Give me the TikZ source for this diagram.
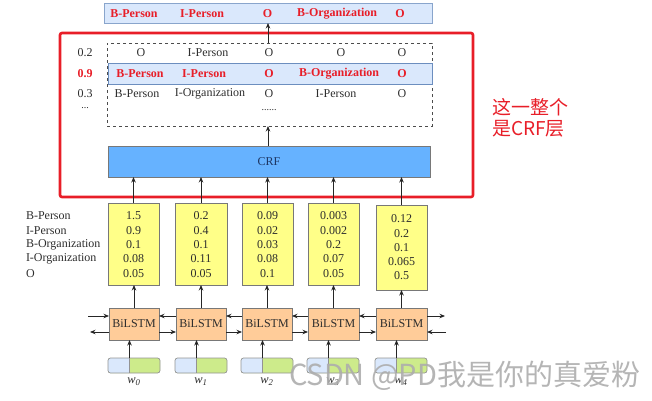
\documentclass[tikz,border=0pt]{standalone}
\usepackage{fontspec}
\setmainfont{Liberation Serif}
\newfontfamily\cjk{Noto Sans CJK SC}
\usetikzlibrary{arrows.meta}
\definecolor{redt}{RGB}{232,30,40}
\definecolor{lblue}{RGB}{218,232,252}
\definecolor{lblueb}{RGB}{108,142,191}
\definecolor{crfblue}{RGB}{102,178,255}
\definecolor{yel}{RGB}{255,255,136}
\definecolor{peach}{RGB}{255,204,153}
\definecolor{lgreen}{RGB}{205,235,139}
\definecolor{txt}{RGB}{45,45,45}
\definecolor{boxb}{RGB}{120,120,120}
\begin{document}
\begin{tikzpicture}[x=1pt,y=-1pt,
  font=\fontsize{12}{14}\selectfont,
  every node/.style={inner sep=0pt, outer sep=0pt},
  lab/.style={text=txt},
  redlab/.style={text=redt, font=\fontsize{12}{14}\selectfont\bfseries},
  arr/.style={-{Stealth[length=5.5pt,width=4.5pt]}, line width=0.8pt, draw=black!85},
  yelbox/.style={draw=boxb, fill=yel, line width=0.8pt, minimum width=51pt},
  lstm/.style={draw=boxb, fill=peach, line width=0.8pt, minimum width=50pt, minimum height=32pt, text=txt},
  ]
\useasboundingbox (0,0) rectangle (652,400);

% top output bar
\node[draw=lblueb!80, fill=lblue, line width=0.8pt, minimum width=328pt, minimum height=20pt] (topbar) at (268,13) {};
\node[redlab] (a1) at (134,13.5) {B-Person};
\node[redlab] (a2) at (202,13.5) {I-Person};
\node[redlab] (a3) at (267.5,13.5) {O};
\node[redlab] (a4) at (337,13.5) {B-Organization};
\node[redlab] (a5) at (400,13.5) {O};

% red frame
\node[draw=redt, line width=2.6pt, rounded corners=2pt, minimum width=413pt, minimum height=164pt] (frame) at (266.5,115) {};

% dashed candidate box
\node[draw=black!70, dashed, line width=0.8pt, minimum width=325pt, minimum height=83pt] (dash) at (269.5,84.5) {};
\node[draw=lblueb, fill=lblue, line width=0.8pt, minimum width=324pt, minimum height=21pt] (best) at (270,73.5) {};

\node[lab] (r11) at (141,53) {O};
\node[lab] (r12) at (208,53) {I-Person};
\node[lab] (r13) at (269,53) {O};
\node[lab] (r14) at (341,53) {O};
\node[lab] (r15) at (402,53) {O};

\node[redlab] (r21) at (140,74) {B-Person};
\node[redlab] (r22) at (204,74) {I-Person};
\node[redlab] (r23) at (269,74) {O};
\node[redlab] (r24) at (339,74) {B-Organization};
\node[redlab] (r25) at (402,74) {O};

\node[lab] (r31) at (137,94) {B-Person};
\node[lab] (r32) at (210,94) {I-Organization};
\node[lab] (r33) at (269,94) {O};
\node[lab] (r34) at (336,94) {I-Person};
\node[lab] (r35) at (402,94) {O};
\node[lab, font=\fontsize{10}{10}\selectfont] (r43) at (269,110) {......};

\node[lab] (s1) at (85,53) {0.2};
\node[redlab] (s2) at (85,74) {0.9};
\node[lab] (s3) at (85,94) {0.3};
\node[lab, font=\fontsize{10}{10}\selectfont] (s4) at (85,108) {...};

% CRF
\node[draw=boxb, fill=crfblue, line width=0.8pt, minimum width=322pt, minimum height=31pt, text={rgb,255:red,30;green,55;blue,100}] (crf) at (269,161.5) {CRF};

\coordinate (c1) at (268,126);
\draw[arr] (c1 |- crf.north) -- (c1 |- dash.south);
\draw[arr] (c1 |- dash.north) -- (c1 |- topbar.south);

% row labels
\foreach \t [count=\i] in {B-Person,I-Person,B-Organization,I-Organization,O}
  \node[lab, anchor=west] (rl\i) at (26,{216+14.3*(\i-1)}) {\t};

% yellow score boxes
\node[yelbox, minimum height=82pt] (y1) at (133.5,244) {};
\node[yelbox, minimum height=82pt, minimum width=52pt] (y2) at (201,244) {};
\node[yelbox, minimum height=82pt] (y3) at (267.5,244) {};
\node[yelbox, minimum height=82pt] (y4) at (333.5,244) {};
\node[yelbox, minimum height=85pt] (y5) at (401.5,247.5) {};

\foreach \v [count=\i] in {1.5,0.9,0.1,0.08,0.05}
  \node[lab] (v1\i) at (133.5,{216+14.3*(\i-1)}) {\v};
\foreach \v [count=\i] in {0.2,0.4,0.1,0.11,0.05}
  \node[lab] (v2\i) at (201,{216+14.3*(\i-1)}) {\v};
\foreach \v [count=\i] in {0.09,0.02,0.03,0.08,0.1}
  \node[lab] (v3\i) at (267.5,{216+14.3*(\i-1)}) {\v};
\foreach \v [count=\i] in {0.003,0.002,0.2,0.07,0.05}
  \node[lab] (v4\i) at (333.5,{216+14.3*(\i-1)}) {\v};
\foreach \v [count=\i] in {0.12,0.2,0.1,0.065,0.5}
  \node[lab] (v5\i) at (401.5,{219+14.2*(\i-1)}) {\v};

% BiLSTM
\node[lstm] (b1) at (134,324) {BiLSTM};
\node[lstm] (b2) at (201,324) {BiLSTM};
\node[lstm] (b3) at (267,324) {BiLSTM};
\node[lstm, minimum width=51pt] (b4) at (333.5,324) {BiLSTM};
\node[lstm, minimum width=51pt] (b5) at (401.5,324) {BiLSTM};

\foreach \i in {1,...,5} {
  \draw[arr] (b\i.north) -- (b\i.north |- y\i.south);
  \draw[arr] (y\i.north) -- (y\i.north |- crf.south);
}

% horizontal recurrent arrows
\foreach \i/\j in {1/2,2/3,3/4,4/5} {
  \draw[arr] ([yshift=-8pt]b\i.east) -- ([yshift=-8pt]b\j.west);
  \draw[arr] ([yshift=8pt]b\j.west) -- ([yshift=8pt]b\i.east);
}
\coordinate (lin) at (88,316);
\coordinate (lout) at (90,332);
\coordinate (rout) at (445,316);
\coordinate (rin) at (446,332);
\draw[arr] (lin) -- (lin -| b1.west);
\draw[arr] (lout -| b1.west) -- (lout);
\draw[arr] (rout -| b5.east) -- (rout);
\draw[arr] (rin) -- (rin -| b5.east);

% word embeddings
\foreach \i/\x/\w in {1/108/0,2/175/1,3/241/2,4/307/3,5/375/4} {
  \fill[lgreen, rounded corners=2.5pt] (\x,358) rectangle ++(52,15);
  \fill[lblue, rounded corners=2.5pt] (\x,358) rectangle ++(21,15);
  \fill[lgreen] (\x+18,358) rectangle ++(3.5,15);
  \fill[lblue] (\x+15,358) rectangle ++(6,15);
  \draw[boxb!80, line width=0.7pt, rounded corners=2.5pt] (\x,358) rectangle ++(52,15);
  \coordinate (e\i) at (\x+21.5,358);
  \draw[boxb!80, line width=0.7pt] (e\i) -- ++(0,15);
  \draw[arr] (e\i) -- (e\i |- b\i.south);
  \node[lab, font=\fontsize{12.5}{14}\selectfont\itshape] (w\i) at (\x+26,382) {w\textsubscript{\w}};
}

% annotation
\node[anchor=west, text=redt, font=\cjk\fontsize{19}{22}\selectfont] (note1) at (492,107) {这一整个};
\node[anchor=west, text=redt, font=\cjk\fontsize{19}{22}\selectfont] (note2) at (492,129) {是CRF层};

% watermark
\node[anchor=west, text=black!32, font=\cjk\fontsize{29}{32}\selectfont, opacity=0.9] (wm) at (289,376) {CSDN @PD我是你的真爱粉};
\end{tikzpicture}
\end{document}
